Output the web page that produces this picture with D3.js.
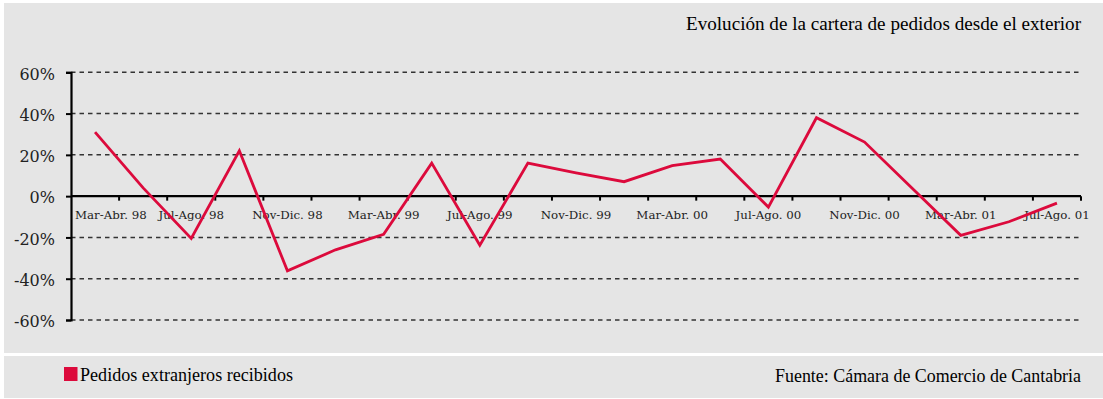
<!DOCTYPE html>
<html>
<head>
<meta charset="utf-8">
<script src="https://cdn.jsdelivr.net/npm/d3@7"></script>
<style>
  html, body { margin: 0; padding: 0; background: #ffffff; }
  svg { display: block; }
</style>
</head>
<body>
<svg id="chart" width="1103" height="399"></svg>
<script>
"use strict";

// bimonthly periods, Mar-Abr 98 .. Jul-Ago 01
const categories = [
  "Mar-Abr. 98", "May-Jun. 98", "Jul-Ago. 98", "Sep-Oct. 98", "Nov-Dic. 98",
  "Ene-Feb. 99", "Mar-Abr. 99", "May-Jun. 99", "Jul-Ago. 99", "Sep-Oct. 99",
  "Nov-Dic. 99", "Ene-Feb. 00", "Mar-Abr. 00", "May-Jun. 00", "Jul-Ago. 00",
  "Sep-Oct. 00", "Nov-Dic. 00", "Ene-Feb. 01", "Mar-Abr. 01", "May-Jun. 01",
  "Jul-Ago. 01"
];
// only every other period gets a label
const tickLabels = [
  "Mar-Abr. 98", "Jul-Ago. 98", "Nov-Dic. 98", "Mar-Abr. 99", "Jul-Ago. 99",
  "Nov-Dic. 99", "Mar-Abr. 00", "Jul-Ago. 00", "Nov-Dic. 00", "Mar-Abr. 01",
  "Jul-Ago. 01"
];
// Pedidos extranjeros recibidos (% variation)
const pedidos = [
  31, 4, -20.5, 22, -36.2, -26, -18.5, 16, -23.8, 16,
  11.3, 7, 14.8, 18, -5.3, 38, 26.2, 3.6, -19, -12.4,
  -3.4
];
const yTicks = [60, 40, 20, 0, -20, -40, -60];

const title = "Evolución de la cartera de pedidos desde el exterior";
const legendLabel = "Pedidos extranjeros recibidos";
const source = "Fuente: Cámara de Comercio de Cantabria";

const red = "#dc0a3c";
const panel = "#e5e5e5";
const axisFont = "'DejaVu Serif', serif";
const serif = "'Liberation Serif', serif";

let svg = d3.select("#chart");

// background panels
svg.append("rect").attr("x", 4).attr("y", 3).attr("width", 1099).attr("height", 350).attr("fill", panel);
svg.append("rect").attr("x", 4).attr("y", 356).attr("width", 1099).attr("height", 42).attr("fill", panel);

let plotLeft = 71, plotRight = 1081, plotTop = 72.3, plotBottom = 320;

let x = d3.scaleBand().domain(categories).range([plotLeft, plotRight]).padding(0),
    y = d3.scaleLinear().domain([-60, 60]).range([plotBottom, plotTop]);

// dashed grid lines
svg.append("g")
  .selectAll("line")
  .data(yTicks.filter(d => d !== 0))
  .enter().append("line")
    .attr("x1", plotLeft).attr("x2", plotRight)
    .attr("y1", d => y(d)).attr("y2", d => y(d))
    .attr("stroke", "#333")
    .attr("stroke-width", 1.5)
    .attr("stroke-dasharray", "4.5,4");

// y axis
let yAxis = svg.append("g")
  .attr("transform", `translate(${plotLeft},0)`)
  .call(d3.axisLeft(y).tickValues(yTicks).tickSize(5).tickFormat(d => d + "%"))
  .attr("font-family", axisFont)
  .attr("font-size", 16);
yAxis.select(".domain").attr("stroke", "#000").attr("stroke-width", 2.2);
yAxis.selectAll(".tick line").attr("stroke", "#000").attr("stroke-width", 2);
yAxis.selectAll(".tick text")
  .attr("x", -16)
  .attr("dy", "0.42em")
  .attr("fill", "#222")
  .attr("font-family", axisFont)
  .attr("font-size", 16);

// zero line with tick marks at band boundaries
let y0 = y(0);
svg.append("line")
  .attr("x1", plotLeft).attr("x2", plotRight)
  .attr("y1", y0).attr("y2", y0)
  .attr("stroke", "#000").attr("stroke-width", 2.2);

let bounds = categories.map(c => x(c)).concat([plotRight]);
svg.append("g")
  .selectAll("line")
  .data(bounds.slice(1))
  .enter().append("line")
    .attr("x1", d => d).attr("x2", d => d)
    .attr("y1", y0).attr("y2", y0 + 4.5)
    .attr("stroke", "#000").attr("stroke-width", 2);

// category labels
let xAxis = svg.append("g")
  .attr("transform", `translate(0,${y0})`)
  .call(d3.axisBottom(x).tickValues(tickLabels).tickSize(0))
  .attr("font-family", axisFont)
  .attr("font-size", 11.8);
xAxis.select(".domain").remove();
xAxis.selectAll(".tick text")
  .attr("y", 22.5)
  .attr("dy", 0)
  .attr("fill", "#222")
  .each(function() {
    // keep the first label clear of the y axis
    let t = d3.select(this);
    let tr = d3.select(this.parentNode).attr("transform");
    let tx = +tr.match(/translate\(([-\d.]+)/)[1];
    let w = this.getComputedTextLength();
    if (tx - w / 2 < plotLeft + 4) {
      t.attr("x", plotLeft + 4 + w / 2 - tx);
    }
  });

// the series line
let line = d3.line()
  .x((d, i) => x(categories[i]) + x.bandwidth() / 2)
  .y(d => y(d));

svg.append("path")
  .datum(pedidos)
  .attr("fill", "none")
  .attr("stroke", red)
  .attr("stroke-width", 2.8)
  .attr("stroke-linejoin", "miter")
  .attr("d", line);

// title
let titleText = svg.append("text")
  .attr("x", 1081).attr("y", 29.5)
  .attr("text-anchor", "end")
  .attr("fill", "#000")
  .attr("font-family", serif)
  .attr("font-size", 19)
  .text(title);
fitWidth(titleText, 395);

// legend
svg.append("rect")
  .attr("x", 64).attr("y", 367)
  .attr("width", 13.5).attr("height", 14)
  .attr("fill", red);
let legendText = svg.append("text")
  .attr("x", 80).attr("y", 381)
  .attr("fill", "#000")
  .attr("font-family", serif)
  .attr("font-size", 18.5)
  .text(legendLabel);
fitWidth(legendText, 213);

let sourceText = svg.append("text")
  .attr("x", 1081).attr("y", 381.5)
  .attr("text-anchor", "end")
  .attr("fill", "#000")
  .attr("font-family", serif)
  .attr("font-size", 18.5)
  .text(source);
fitWidth(sourceText, 306);

// match the width of the original's condensed face
function fitWidth(sel, width) {
  sel.attr("textLength", width).attr("lengthAdjust", "spacingAndGlyphs");
}
</script>
</body>
</html>
